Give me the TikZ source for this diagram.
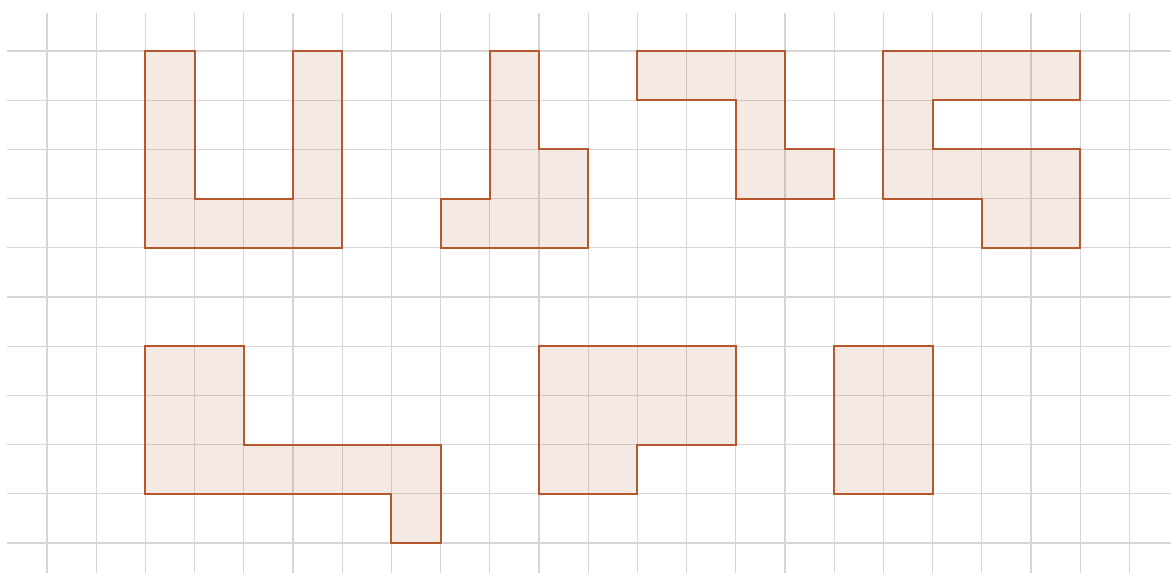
\documentclass[tikz,border=0pt]{standalone}
\definecolor{gridgray}{RGB}{214,214,214}
\definecolor{shapeline}{RGB}{181,88,45}
\tikzset{
  gridline/.style={draw=gridgray, line width=0.7pt},
  piece/.style={draw=shapeline, line width=1.2pt, fill=shapeline, fill opacity=0.13, line join=miter}
}
\begin{document}
\begin{tikzpicture}[x=1cm,y=-1cm]
\useasboundingbox (-0.955,-1.037) rectangle (22.846,10.589);
% grid
\foreach \i in {0,...,22} \draw[gridline] (\i,-0.77) -- (\i,10.6);
\foreach \j in {0,...,10} \draw[gridline] (-0.81,\j) -- (22.85,\j);
% pieces
\draw[piece] (2,0) -- (3,0) -- (3,3) -- (5,3) -- (5,0) -- (6,0) -- (6,4) -- (2,4) -- cycle;
\draw[piece] (9,0) -- (10,0) -- (10,2) -- (11,2) -- (11,4) -- (8,4) -- (8,3) -- (9,3) -- cycle;
\draw[piece] (12,0) -- (15,0) -- (15,2) -- (16,2) -- (16,3) -- (14,3) -- (14,1) -- (12,1) -- cycle;
\draw[piece] (17,0) -- (21,0) -- (21,1) -- (18,1) -- (18,2) -- (21,2) -- (21,4) -- (19,4) -- (19,3) -- (17,3) -- cycle;
\draw[piece] (2,6) -- (4,6) -- (4,8) -- (8,8) -- (8,10) -- (7,10) -- (7,9) -- (2,9) -- cycle;
\draw[piece] (10,6) -- (14,6) -- (14,8) -- (12,8) -- (12,9) -- (10,9) -- cycle;
\draw[piece] (16,6) -- (18,6) -- (18,9) -- (16,9) -- cycle;
\end{tikzpicture}
\end{document}
